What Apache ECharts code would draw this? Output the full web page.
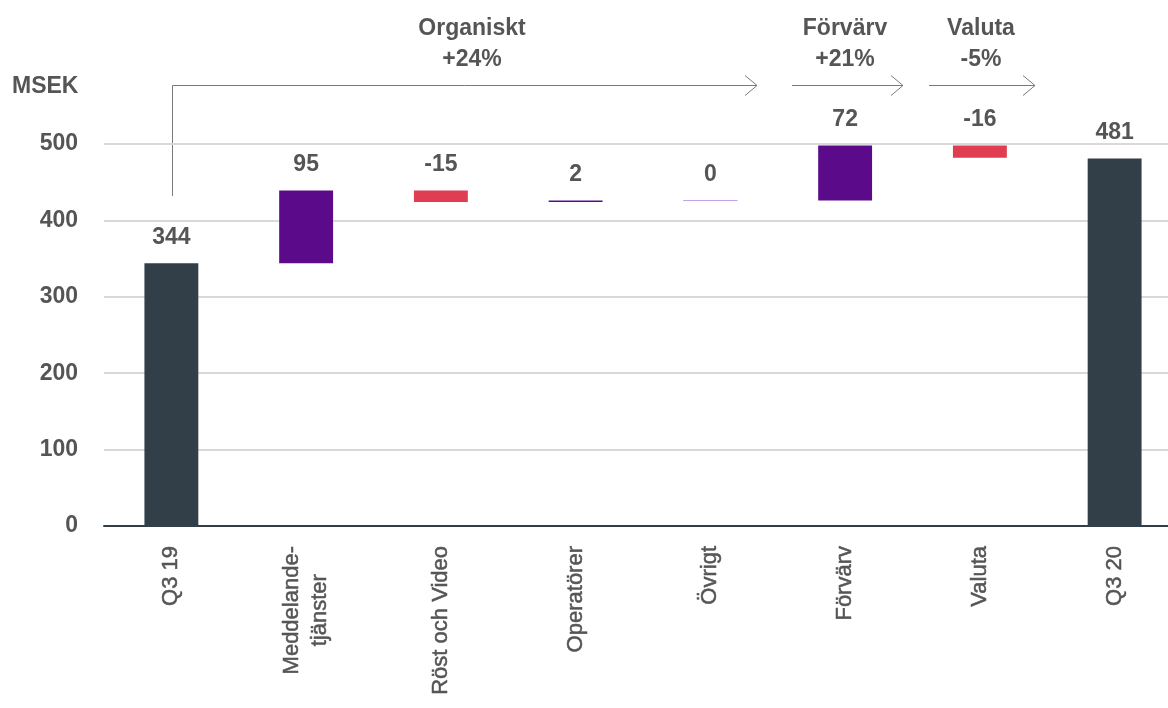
<!DOCTYPE html>
<html>
<head>
<meta charset="utf-8">
<script src="https://cdn.jsdelivr.net/npm/echarts@6/dist/echarts.min.js"></script>
<style>
  html, body { margin: 0; padding: 0; background: #fff; overflow: hidden; }
  /* plot runs slightly past the right edge in the original, so the chart box is wider than the window */
  #chart { width: 1182px; height: 708px; }
</style>
</head>
<body>
<div id="chart"></div>
<script>
// data
const categories = ['Q3 19', 'Meddelande-\ntjänster', 'Röst och Video', 'Operatörer', 'Övrigt', 'Förvärv', 'Valuta', 'Q3 20'];
const startValue = 344;
const changes = [95, -15, 2, 0, 72, -16];
const endValue = 481;
const yTicks = [0, 100, 200, 300, 400, 500];

const textColor = '#555555';
const darkColor = '#333f48';
const upColor = '#5b0a8a';
const downColor = '#e03c52';
const zeroColor = '#c4a3e6';
const fontFamily = 'Liberation Sans, Arial, sans-serif';

// build the invisible base + visible bar for the waterfall
const baseData = [0];
const barData = [{ value: startValue, label: startValue, itemStyle: { color: darkColor } }];
let running = startValue;
changes.forEach((c) => {
  if (c >= 0) {
    baseData.push(running);
    running += c;
  } else {
    running += c;
    baseData.push(running);
  }
  let item = { value: Math.abs(c), label: c, itemStyle: { color: c > 0 ? upColor : downColor } };
  if (c === 0) {
    item.itemStyle = { color: zeroColor, borderColor: zeroColor, borderWidth: 1 };
  }
  barData.push(item);
});
baseData.push(0);
barData.push({ value: endValue, label: endValue, itemStyle: { color: darkColor } });

const chart = echarts.init(document.getElementById('chart'));

const boldText = { fill: textColor, fontSize: 23, fontWeight: 'bold', fontFamily: fontFamily, textAlign: 'center' };
const lineStyle = { stroke: '#7a7a7a', lineWidth: 1, fill: null };

function chevron(x, y) {
  return { type: 'polyline', shape: { points: [[x - 12, y - 10], [x, y], [x - 12, y + 10]] }, style: lineStyle };
}

const option = {
  animation: false,
  textStyle: { fontFamily: fontFamily },
  grid: { left: 104, top: 144, bottom: 182, right: 0 },
  xAxis: {
    type: 'category',
    data: categories,
    axisTick: { show: false },
    axisLine: { lineStyle: { color: darkColor, width: 2 } },
    axisLabel: {
      rotate: 90,
      interval: 0,
      margin: 20,
      color: textColor,
      fontSize: 22,
      // centre each line of a wrapped label, like the original
      formatter: (v) => v.split('\n').map((s) => '{c|' + s + '}').join('\n'),
      rich: {
        c: {
          align: 'center', color: textColor, fontSize: 22, lineHeight: 28, fontFamily: fontFamily,
          textBorderColor: textColor, textBorderWidth: 0.5
        }
      }
    }
  },
  yAxis: {
    type: 'value',
    min: yTicks[0],
    max: yTicks[yTicks.length - 1],
    interval: 100,
    axisLine: { show: false },
    axisTick: { show: false },
    axisLabel: { color: textColor, fontSize: 23, fontWeight: 'bold', margin: 26 },
    splitLine: { lineStyle: { color: '#d9d9d9', width: 2 } }
  },
  series: [
    {
      type: 'bar',
      stack: 'w',
      silent: true,
      itemStyle: { color: 'transparent' },
      data: baseData
    },
    {
      type: 'bar',
      stack: 'w',
      barWidth: '40%',
      data: barData,
      label: {
        show: true,
        position: 'top',
        distance: 14,
        color: textColor,
        fontSize: 23,
        fontWeight: 'bold',
        formatter: (p) => String(p.data.label)
      }
    }
  ],
  graphic: [
    { type: 'text', left: 12, top: 75, style: { text: 'MSEK', fill: textColor, fontSize: 23, fontWeight: 'bold', fontFamily: fontFamily } },
    { type: 'text', x: 472, y: 17, style: Object.assign({ text: 'Organiskt' }, boldText) },
    { type: 'text', x: 472, y: 48, style: Object.assign({ text: '+24%' }, boldText) },
    { type: 'text', x: 845, y: 17, style: Object.assign({ text: 'Förvärv' }, boldText) },
    { type: 'text', x: 845, y: 48, style: Object.assign({ text: '+21%' }, boldText) },
    { type: 'text', x: 981, y: 17, style: Object.assign({ text: 'Valuta' }, boldText) },
    { type: 'text', x: 981, y: 48, style: Object.assign({ text: '-5%' }, boldText) },
    { type: 'polyline', shape: { points: [[172.5, 196], [172.5, 85.5], [757, 85.5]] }, style: lineStyle },
    chevron(757, 85.5),
    { type: 'polyline', shape: { points: [[792, 85.5], [903, 85.5]] }, style: lineStyle },
    chevron(903, 85.5),
    { type: 'polyline', shape: { points: [[929, 85.5], [1035, 85.5]] }, style: lineStyle },
    chevron(1035, 85.5)
  ]
};

chart.setOption(option);
</script>
</body>
</html>
